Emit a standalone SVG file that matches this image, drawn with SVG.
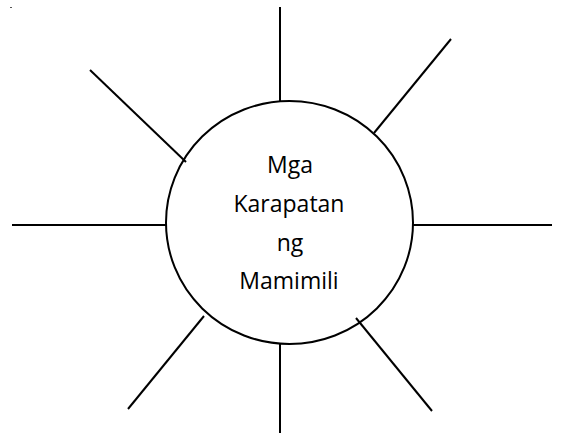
<svg xmlns="http://www.w3.org/2000/svg" width="562" height="435" viewBox="0 0 562 435">
<style>
.ln{stroke:#000;stroke-width:2;fill:none;stroke-linecap:butt}
.lbl{font-family:"Open Sans","Liberation Sans",sans-serif;font-size:23px;fill:#000;text-anchor:middle}
</style>
<rect width="562" height="435" fill="#fff"/>
<rect x="10" y="7" width="2" height="1" fill="#555"/>
<g id="connectors">
<line class="ln" x1="280" y1="7" x2="280" y2="101"/>
<line class="ln" x1="451" y1="39" x2="374" y2="133"/>
<line class="ln" x1="413" y1="225" x2="552" y2="225"/>
<line class="ln" x1="356" y1="318" x2="432" y2="411"/>
<line class="ln" x1="280" y1="344" x2="280" y2="433"/>
<line class="ln" x1="204" y1="316" x2="128" y2="409"/>
<line class="ln" x1="12" y1="225" x2="166" y2="225"/>
<line class="ln" x1="90" y1="70" x2="186" y2="162"/>
</g>
<g id="center">
<ellipse class="ln" cx="289.5" cy="222.5" rx="123.5" ry="121.5"/>
<text class="lbl" x="290" y="173">Mga</text>
<text class="lbl" x="289" y="212">Karapatan</text>
<text class="lbl" x="290" y="251">ng</text>
<text class="lbl" x="289" y="289">Mamimili</text>
</g>
</svg>
